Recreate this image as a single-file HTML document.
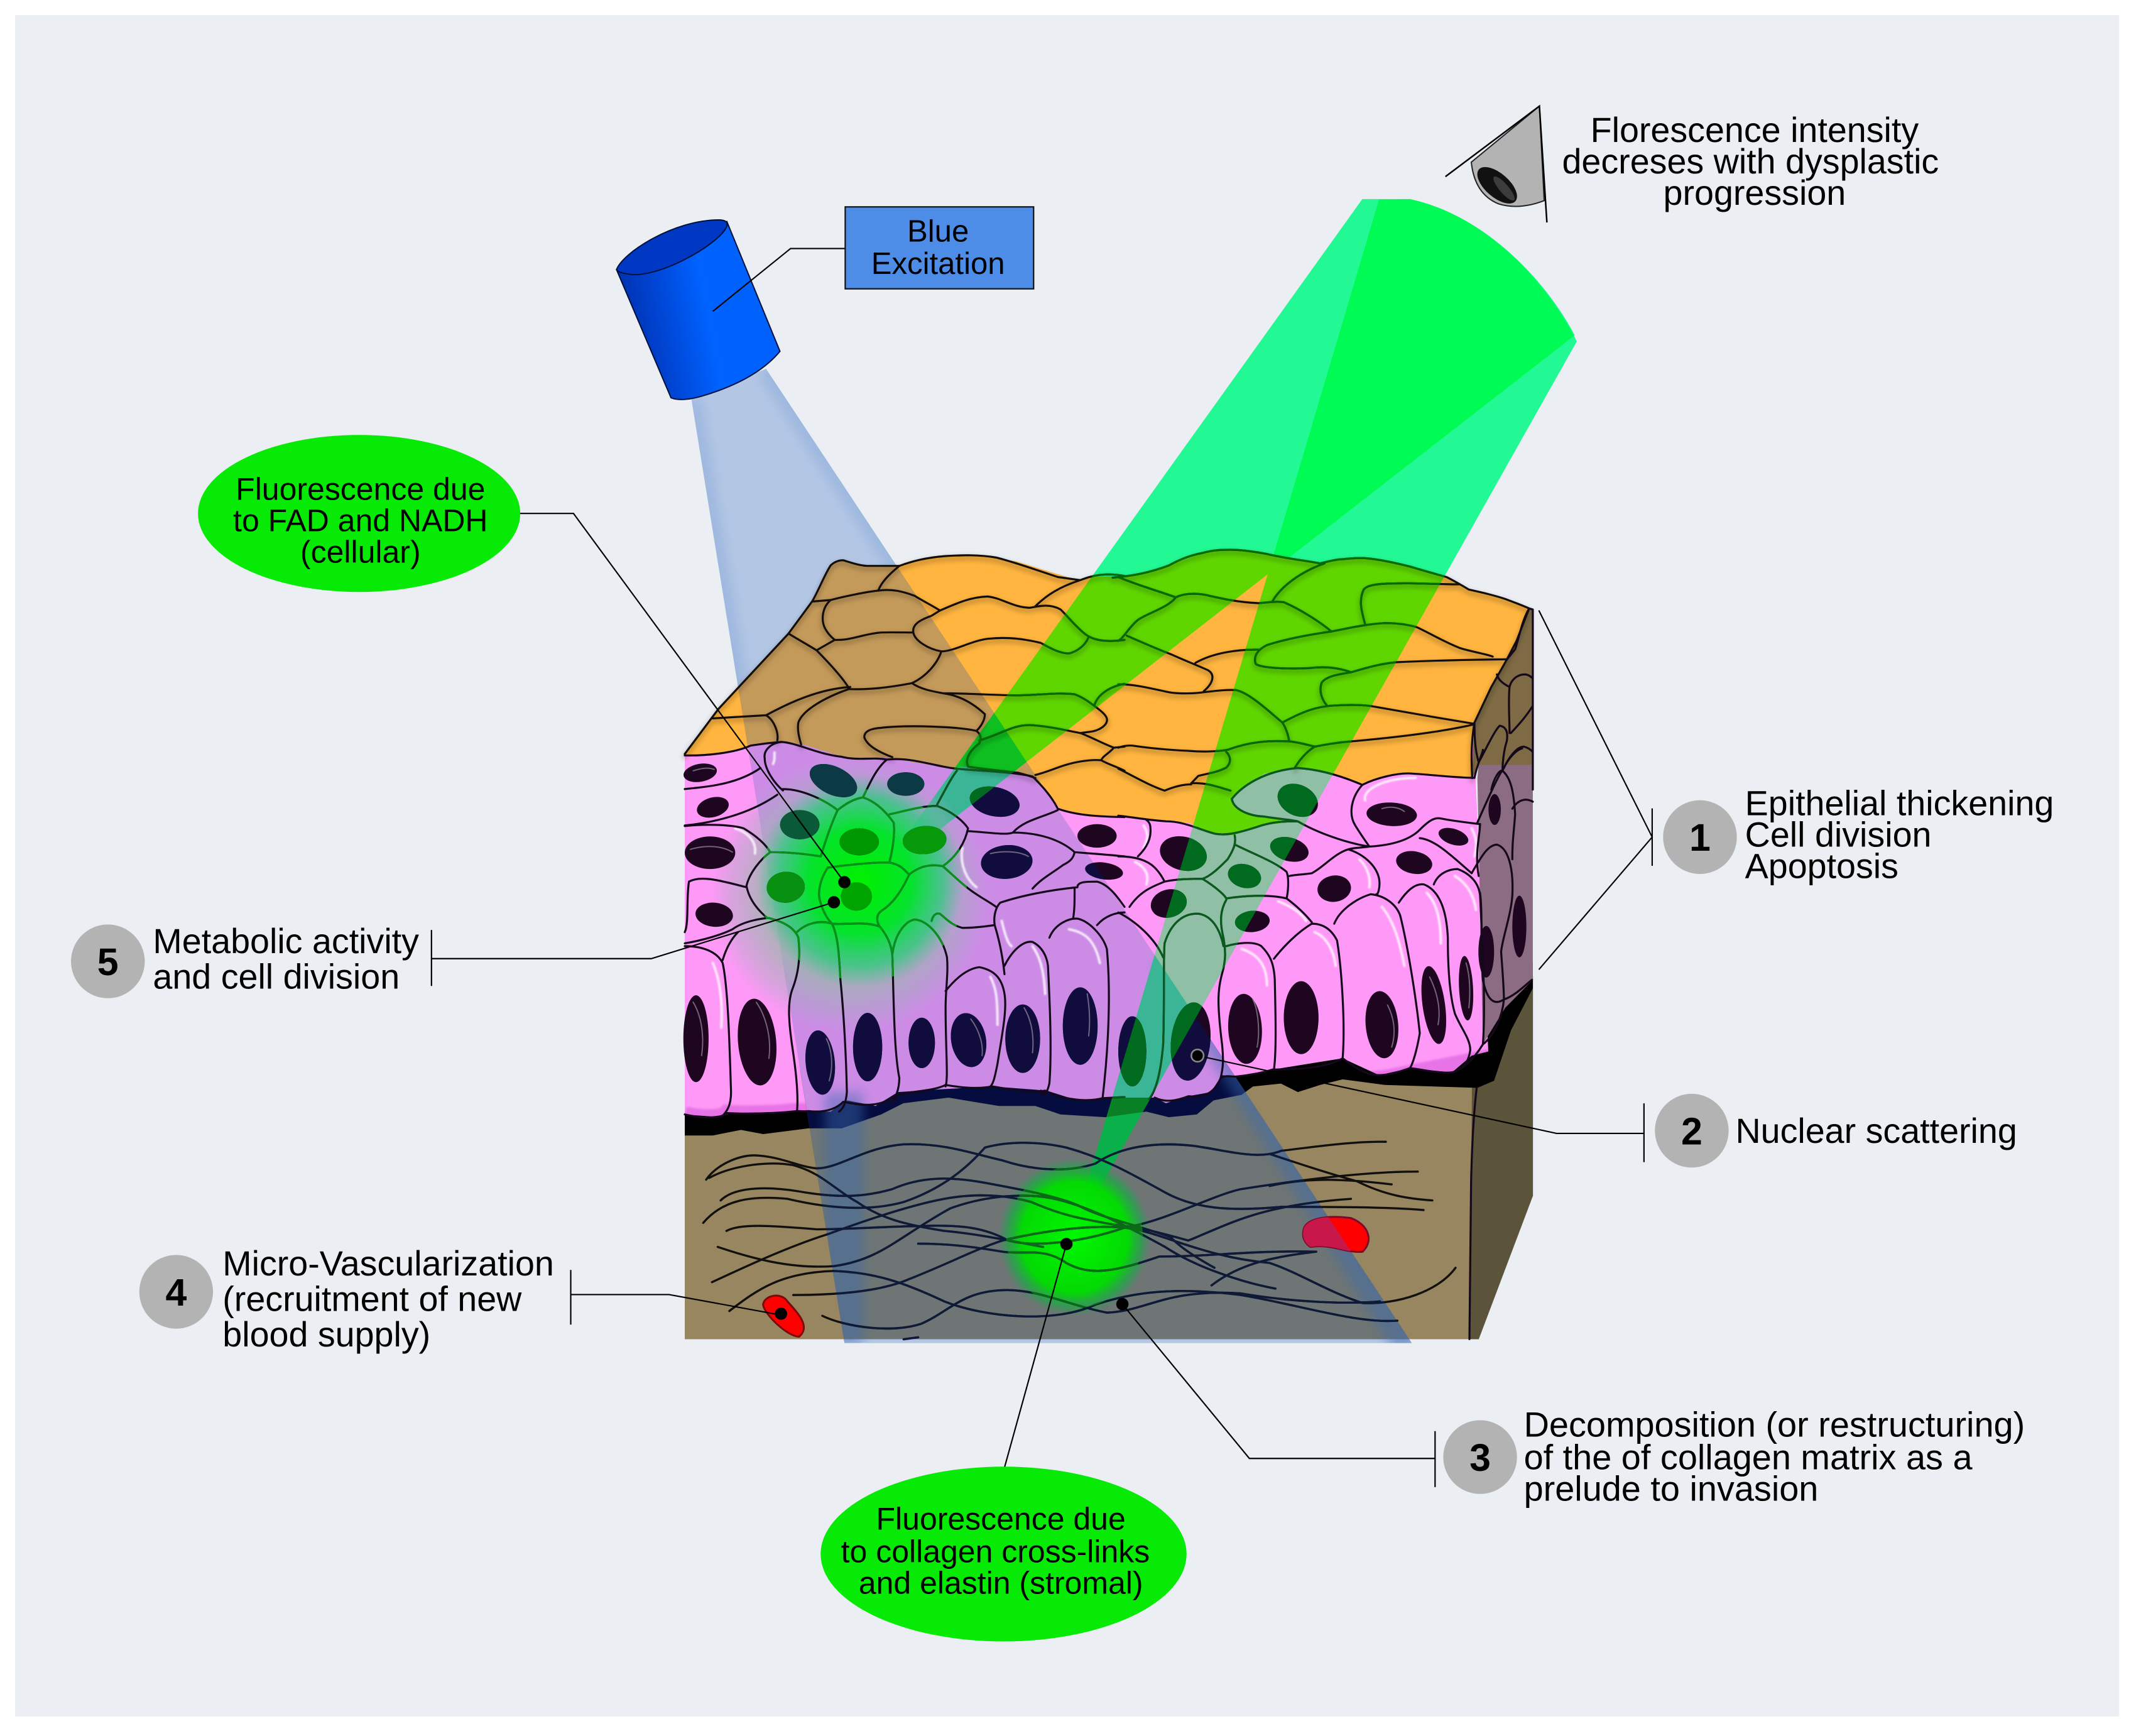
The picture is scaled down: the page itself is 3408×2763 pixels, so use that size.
<!DOCTYPE html>
<html><head><meta charset="utf-8"><style>
html,body{margin:0;padding:0;background:#fff}
svg{display:block}
text{font-family:"Liberation Sans",sans-serif;fill:#000}
.ln{fill:none;stroke:#000;stroke-width:1}
.v path{vector-effect:non-scaling-stroke}
.o{fill:none;stroke-linejoin:round;stroke-linecap:round}
</style></head><body>
<svg xmlns="http://www.w3.org/2000/svg" width="3408" height="2763" viewBox="0 0 1568 1271.25">
<defs>
<linearGradient id="gCyl" x1="0" y1=".6" x2="1" y2=".4"><stop offset="0" stop-color="#002ca8"/><stop offset=".3" stop-color="#0048d8"/><stop offset=".55" stop-color="#0062ff"/><stop offset="1" stop-color="#0060fb"/></linearGradient>
<radialGradient id="gHalo"><stop offset="0" stop-color="#80c090" stop-opacity=".95"/><stop offset=".6" stop-color="#98b8a8" stop-opacity=".8"/><stop offset=".85" stop-color="#a0b0b8" stop-opacity=".4"/><stop offset="1" stop-color="#a0a8c0" stop-opacity="0"/></radialGradient>
<radialGradient id="gGlow1"><stop offset="0" stop-color="#00f000"/><stop offset=".5" stop-color="#00e428" stop-opacity=".97"/><stop offset=".8" stop-color="#10d070" stop-opacity=".6"/><stop offset="1" stop-color="#30c090" stop-opacity="0"/></radialGradient>
<radialGradient id="gGlow2"><stop offset="0" stop-color="#00f800"/><stop offset=".7" stop-color="#00dc00" stop-opacity=".97"/><stop offset=".88" stop-color="#10b040" stop-opacity=".6"/><stop offset="1" stop-color="#20a050" stop-opacity="0"/></radialGradient>
<filter id="b1" x="-5%" y="-5%" width="110%" height="110%"><feGaussianBlur stdDeviation="1.6"/></filter>
<filter id="b2" x="-5%" y="-5%" width="110%" height="110%"><feGaussianBlur stdDeviation="4"/></filter>
<filter id="b3" x="-5%" y="-5%" width="110%" height="110%"><feGaussianBlur stdDeviation=".5"/></filter>

<clipPath id="cBlue"><polygon points="506.4,292.5 561,270 1034,983.5 618.4,983.5"/></clipPath>
<clipPath id="cB1"><path d="M640,645 L997.7,145.8 L1032.6,145.8 C1087.5,157.5 1132.4,205.6 1153.3,245.5Z"/></clipPath>
<clipPath id="cGreen"><path d="M640,645 L997.7,145.8 L1032.6,145.8 C1087.5,157.5 1132.4,205.6 1153.3,245.5Z"/><path d="M783,910 L1010,146 L1032.6,145.8 C1087.5,157.5 1132.4,205.6 1154.8,250Z"/></clipPath>
<clipPath id="cGlowA"><ellipse cx="632" cy="648" rx="76" ry="70"/></clipPath>
<clipPath id="cGlowB"><ellipse cx="787" cy="906" rx="50" ry="52"/></clipPath>

<path id="rStroma" d="M501.5,785 L1082,785 L1077,980.7 L501.5,980.7Z"/>
<path id="rBlack" d="M501.5,790 L1086,745 L1122.6,705 L1122.6,723.7 L1106.6,754.5 L1094.2,791.4 L1082,796.6 L1014.1,794.5 L983.3,790.4 L966.9,794.5 L950.5,799.7 L938.1,793.5 L917.6,795.6 L909.4,801.7 L888.8,805.8 L876.5,816.1 L856,818.1 L839.5,814 L809.6,818.1 L776.7,816.1 L758.3,809.9 L731.5,809.9 L694.6,803.8 L661.7,807.9 L645.3,816.1 L616.5,826.3 L591.9,826.3 L559,830.5 L542.6,827.4 L522,831.5 L501.5,831.5Z"/>
<path id="rPink" d="M501.5,553 L573,535 L1079,535 L1090,770 L1077.8,773 L1063.4,785.3 L1032.6,782.2 L1010,787.3 L983.3,775 L932,783.2 L905.3,788.4 L895,787.3 L886.8,799.7 L870.4,802.7 L853.9,807.9 L845.7,803.8 L809.6,803.8 L789.1,805.8 L766.5,798.6 L727.4,795.6 L690.5,797.6 L657.6,799.7 L641.2,809.9 L620.6,805.8 L608.3,814 L583.7,814 L534.4,815 L528.2,818.1 L501.5,816.1Z"/>
<path id="rTop" d="M501.5,552.1 L526.1,519.2 L577.5,463.9 L595,440.2 L608.3,414.1 L615.5,410.3 L633,414.1 L658.6,414.4 L682.3,408 L715.1,406.7 L743.9,411 L789,424.8 L799.3,422.5 L829.3,421.8 L856,414.1 L880.6,404.9 L901.2,402.6 L927.9,405.7 L966.9,412.6 L983.3,409.5 L999.8,408.7 L1032.6,414.9 L1059.3,422.5 L1075.8,431.7 L1102.5,438.6 L1119.9,445.5 L1110.7,469.3 L1103.5,483.1 L1092.2,503 L1079.9,529.1 L1077.4,549 L1078.2,569.8 L1034.7,566.5 L1012.1,568.6 L997.7,574.7 L975.1,566.5 L950.5,562.4 L925.8,566.5 L909.4,577.8 L902.2,585 L905.3,592.2 L921.7,597.3 L950.5,601.4 L923.8,604.5 L903.2,611.7 L886.8,609.7 L870.4,602.5 L839.5,600.4 L819,597.3 L799.3,598.4 L776.7,592.2 L756.2,568.6 L706.9,561.4 L694.6,562.4 L645.3,554.2 L628.8,556.3 L610.4,552.1 L587.8,545 L573.4,542.9 L552.9,545 L538.5,550.1 L522,553.2 L501.5,553.2Z"/>
<clipPath id="cPink"><use href="#rPink"/></clipPath>

<g id="nuc">
<g transform="translate(501.5,542.9) scale(.2054)">
<ellipse cx="55" cy="112" rx="60" ry="32" transform="rotate(-10 55 112)"/><ellipse cx="100" cy="235" rx="58" ry="35" transform="rotate(-15 100 235)"/><ellipse cx="90" cy="397" rx="90" ry="58"/><ellipse cx="105" cy="618" rx="67" ry="43" transform="rotate(5 105 618)"/><ellipse cx="530" cy="140" rx="90" ry="50" transform="rotate(25 530 140)"/><ellipse cx="788" cy="152" rx="66" ry="42"/><ellipse cx="1105" cy="215" rx="90" ry="52" transform="rotate(12 1105 215)"/><ellipse cx="410" cy="297" rx="70" ry="52"/><ellipse cx="622" cy="358" rx="70" ry="48"/><ellipse cx="855" cy="352" rx="78" ry="50" transform="rotate(-5 855 352)"/><ellipse cx="360" cy="520" rx="68" ry="55" transform="rotate(-5 360 520)"/><ellipse cx="612" cy="553" rx="55" ry="50"/><ellipse cx="1148" cy="430" rx="92" ry="60" transform="rotate(-5 1148 430)"/><ellipse cx="1470" cy="337" rx="70" ry="42"/><ellipse cx="1495" cy="462" rx="68" ry="30" transform="rotate(8 1495 462)"/>
<ellipse cx="40" cy="1060" rx="45" ry="155"/><ellipse cx="258" cy="1072" rx="68" ry="155" transform="rotate(-5 258 1072)"/><ellipse cx="483" cy="1145" rx="52" ry="115" transform="rotate(-5 483 1145)"/><ellipse cx="652" cy="1090" rx="52" ry="122"/><ellipse cx="845" cy="1075" rx="47" ry="90"/><ellipse cx="1012" cy="1065" rx="62" ry="97" transform="rotate(-10 1012 1065)"/><ellipse cx="1205" cy="1060" rx="62" ry="122"/><ellipse cx="1410" cy="1015" rx="62" ry="138"/>
</g>
<g transform="translate(819,542.9) scale(.2054)">
<ellipse cx="640" cy="210" rx="75" ry="55" transform="rotate(25 640 210)"/><ellipse cx="232" cy="400" rx="85" ry="60" transform="rotate(15 232 400)"/><ellipse cx="610" cy="385" rx="70" ry="42" transform="rotate(15 610 385)"/><ellipse cx="450" cy="480" rx="60" ry="42" transform="rotate(15 450 480)"/><ellipse cx="180" cy="578" rx="65" ry="50" transform="rotate(-15 180 578)"/><ellipse cx="478" cy="642" rx="62" ry="38" transform="rotate(-5 478 642)"/><ellipse cx="975" cy="260" rx="90" ry="42" transform="rotate(3 975 260)"/><ellipse cx="1195" cy="340" rx="55" ry="28" transform="rotate(18 1195 340)"/><ellipse cx="1055" cy="432" rx="65" ry="40" transform="rotate(10 1055 432)"/><ellipse cx="770" cy="525" rx="60" ry="47" transform="rotate(-8 770 525)"/>
<ellipse cx="50" cy="1105" rx="50" ry="125"/><ellipse cx="258" cy="1070" rx="70" ry="140" transform="rotate(6 258 1070)"/><ellipse cx="452" cy="1025" rx="60" ry="125" transform="rotate(-3 452 1025)"/><ellipse cx="652" cy="985" rx="62" ry="130"/><ellipse cx="940" cy="1010" rx="58" ry="120" transform="rotate(-5 940 1010)"/><ellipse cx="1125" cy="940" rx="40" ry="140" transform="rotate(-8 1125 940)"/><ellipse cx="1240" cy="880" rx="25" ry="115" transform="rotate(-3 1240 880)"/>
<ellipse cx="1342" cy="243" rx="22" ry="55"/><ellipse cx="1312" cy="750" rx="28" ry="92"/><ellipse cx="1430" cy="660" rx="25" ry="110"/>
</g>
</g>

<!-- top surface lines -->
<g id="tl" class="v o">
<g transform="translate(501.5,404.9) scale(.2054,.15336)">
<path d="M0,960 L120,745 L370,385 L455,230 C480,170 500,100 520,60 C535,40 550,35 565,35 C590,45 620,60 650,62 C690,62 730,62 765,62 C810,40 860,22 930,15 C990,10 1050,8 1110,22 C1180,45 1260,85 1330,115 L1410,130 C1430,120 1450,110 1480,105 C1510,100 1540,103 1568,110"/>
<path d="M765,62 C730,100 700,140 690,180 C650,185 560,210 520,225 L455,232 M690,180 C740,170 780,185 820,205 C850,230 880,250 910,275 M520,225 C490,260 485,320 500,360 C510,385 525,405 535,415 M535,415 C590,420 640,385 700,380 C740,378 780,380 815,380 M535,415 L470,465 M370,385 C400,410 440,440 470,465 C510,520 560,590 585,645"/>
<path d="M910,275 C970,240 1020,210 1080,208 C1130,215 1170,260 1230,262 C1260,255 1300,240 1340,270 C1370,310 1400,360 1430,390 C1450,410 1490,430 1568,415 M1250,255 C1290,200 1340,160 1410,130 M910,275 L880,300 C840,320 810,340 815,380 C820,420 870,460 915,470 M915,470 C960,470 1020,420 1080,410 C1150,400 1210,410 1270,430 C1310,460 1340,480 1370,480 C1400,470 1430,440 1440,400 M915,470 C900,530 860,590 810,622"/>
<path d="M585,650 C660,655 740,640 810,622 C840,650 880,660 920,670 C980,680 1030,720 1070,770 C1070,800 1055,830 1040,850 M590,640 C480,650 380,710 290,775 L100,790 M290,775 C320,800 335,860 330,895 M585,650 C500,690 420,750 405,810 C400,850 410,890 415,915 M920,670 C1000,670 1120,680 1180,680 C1250,680 1330,665 1390,675 C1420,690 1440,710 1460,730 C1480,750 1500,770 1505,790 C1510,820 1480,850 1440,855 L1410,860 M1460,730 C1470,680 1510,640 1568,625"/>
<path d="M1040,850 C980,830 800,820 700,835 C650,840 640,860 640,880 C650,920 690,950 740,975 M1040,850 C1060,870 1055,890 1050,910 C1010,950 1000,990 1010,1020 M1050,895 C1120,870 1170,820 1230,822 C1290,825 1370,850 1410,860 C1450,880 1490,910 1530,930 C1510,960 1490,970 1485,990 C1440,985 1380,1000 1330,1025 C1300,1040 1270,1055 1250,1060 M1530,930 L1568,925 M1485,990 C1510,1010 1540,1020 1568,1040 M1010,1020 C1050,1030 1130,1040 1190,1050 C1220,1060 1240,1070 1250,1075"/>
</g>
<g transform="translate(819,395.7) scale(.2054,.15336)">
<path d="M-20,178 C50,170 110,155 180,120 C220,90 260,70 300,60 C340,45 370,45 400,45 C440,45 490,55 530,65 C590,85 660,95 720,110 C750,100 780,90 800,90 C830,85 850,83 880,85 C930,90 990,108 1040,125 C1090,145 1130,160 1170,175 C1200,195 1225,215 1250,235 C1300,250 1340,262 1380,280 C1410,295 1440,310 1465,325 L1420,480 L1385,570 L1330,700 L1270,870 C1258,960 1258,1050 1262,1135"/>
<path d="M0,175 C60,210 150,245 205,272 M205,272 C230,255 270,250 310,260 C360,275 420,295 500,300 C520,298 560,290 590,295 C650,330 720,390 760,435 M205,272 C180,320 100,350 70,380 C50,400 30,440 10,470 L0,480 M30,455 C90,490 140,520 190,545 C230,570 270,590 320,620 C345,640 340,680 305,720 M550,290 C580,220 650,150 735,110 M880,400 C870,350 855,290 875,235 C890,205 960,205 1030,205 C1090,205 1150,210 1215,210"/>
<path d="M760,435 C820,420 880,400 950,395 C1000,395 1040,405 1065,415 C1120,450 1170,490 1220,515 C1270,535 1320,545 1335,555 M760,435 C680,450 600,470 530,500 C500,520 480,550 490,590 C510,610 600,615 680,610 C740,600 790,610 830,630 M830,630 C880,610 930,590 990,582 C1100,575 1250,570 1385,568 M500,522 C430,520 340,535 275,585 M830,630 C780,640 740,650 725,680 C715,720 725,760 745,790"/>
<path d="M0,688 C50,685 110,705 180,725 C220,735 280,730 305,725 C340,720 380,712 420,715 C470,730 540,820 585,870 C600,900 605,930 610,960 M585,870 C640,830 700,790 780,788 C820,785 870,785 905,792 C1000,815 1150,850 1265,875 M610,960 C540,955 470,960 390,1000 C350,1010 290,1010 250,1005 C170,1000 100,990 50,980 C30,978 10,985 0,990 M1265,880 C1150,915 1000,940 830,960 C780,965 740,975 700,985 C670,1010 645,1050 630,1085 M610,960 C650,965 680,980 705,985 M385,1010 C400,1030 405,1060 385,1085 C350,1110 310,1115 285,1125 L260,1160 M260,1160 C310,1155 350,1175 400,1195 M0,1090 C60,1130 110,1170 165,1195 C210,1170 240,1165 260,1165"/>
</g>
</g>

<!-- cell lines -->
<g id="cl" class="v o">
<g transform="translate(501.5,542.9) scale(.2054)">
<path d="M0,50 C80,52 180,40 235,15 C270,10 300,5 345,2 C400,5 470,45 560,55 C620,70 670,55 720,65 C800,55 880,85 950,95 C1020,105 1150,105 1240,125 C1280,165 1310,200 1330,240 C1400,265 1480,268 1568,270"/>
<path d="M285,60 C280,30 310,5 345,2 M285,60 C285,100 320,150 350,175 M0,170 C100,160 190,150 270,95 M0,300 C100,290 230,260 330,190 M350,170 C420,170 500,210 545,245 M545,245 C570,225 600,205 635,200 C670,210 710,240 745,290 C750,340 740,390 730,430 M635,200 C660,150 680,100 720,65 M730,260 C780,250 840,230 900,230 C950,250 990,280 1010,310 M900,225 C930,170 950,130 970,105 M1010,320 C1090,325 1150,335 1170,325 C1210,280 1280,270 1330,245 M1170,325 C1260,325 1340,350 1390,395 C1385,420 1370,430 1350,440 C1310,470 1270,490 1240,525 M1010,310 C1000,360 970,410 920,445 M1390,395 C1450,400 1520,405 1568,410"/>
<path d="M0,302 C60,295 160,295 210,310 C260,340 290,370 305,395 M305,395 C370,395 420,400 485,410 M305,395 C270,420 230,470 220,515 C230,570 270,610 295,630 M545,245 C520,300 500,360 485,410 M510,450 C580,440 680,430 730,432 C770,440 780,455 800,475 M510,450 C490,480 475,520 480,560 C490,600 505,630 525,650 M800,475 C830,450 870,435 920,445 C960,480 1000,520 1040,545 C1070,565 1090,575 1110,590 M800,475 C770,540 740,580 700,605 C680,620 685,645 695,660 M525,650 C570,655 640,640 695,660 C720,690 735,720 740,760 M400,680 C430,650 480,635 525,650 C545,690 550,750 555,850 C565,950 575,1100 578,1250 C575,1290 565,1310 550,1320"/>
<path d="M15,500 C60,475 140,500 220,520 M15,500 C5,560 15,650 0,680 M0,720 C60,710 130,690 170,670 C210,640 280,630 300,630 C340,640 390,660 405,700 C415,780 400,840 385,880 C365,930 370,1000 385,1100 C400,1200 405,1270 400,1320 M135,780 C150,730 170,700 190,680 M0,730 C80,730 120,760 135,790 C155,880 160,1100 165,1250 C165,1300 150,1320 130,1340"/>
<path d="M740,760 C745,900 745,1100 765,1200 C765,1240 750,1280 735,1290 M740,760 C750,680 790,640 820,635 C870,640 920,700 935,770 C940,830 930,880 930,950 C930,1100 940,1200 930,1230 M880,640 C885,620 895,610 910,615 C930,630 950,655 990,665 C1030,665 1070,660 1105,655 M1105,655 C1125,720 1135,780 1140,830 M1105,655 C1100,620 1110,590 1125,575 C1200,550 1300,530 1400,520 M1400,520 C1400,500 1430,500 1470,500 C1510,510 1540,550 1568,590 M1390,525 C1390,570 1390,600 1385,630 M1300,700 C1320,650 1370,630 1400,632 C1440,640 1490,690 1505,740 C1520,900 1510,1100 1490,1270 M1470,655 C1500,620 1540,610 1568,610 M1140,800 C1170,740 1210,710 1240,715 C1270,730 1290,760 1295,800 C1300,900 1310,1100 1300,1220 C1290,1260 1280,1270 1270,1245 M930,890 C970,840 1010,810 1050,805 C1100,815 1130,840 1140,900 C1150,960 1130,1050 1115,1150 C1105,1200 1100,1220 1090,1230"/>
<path d="M0,1330 C60,1345 130,1345 150,1325 C230,1330 340,1325 400,1318 C420,1318 430,1320 440,1318 C500,1325 540,1310 565,1285 C620,1295 690,1310 745,1265 C800,1245 880,1250 930,1225 C990,1235 1050,1240 1095,1230 C1160,1240 1230,1255 1285,1245 C1330,1270 1420,1290 1490,1272 L1568,1268"/>
</g>
<g transform="translate(819,542.9) scale(.2054)">
<path d="M0,265 C50,270 100,280 170,285 C230,285 280,310 330,325 C370,340 420,330 510,300 C560,285 600,285 640,285 C700,320 800,360 895,375 M405,205 C440,160 520,105 640,95 C720,100 800,125 870,155 C920,130 1000,110 1050,115 C1130,120 1210,130 1270,130 M405,205 C410,240 460,265 520,268 C560,275 620,280 640,285 M870,155 C830,200 820,260 845,300 C870,340 885,360 895,375 C980,370 1040,350 1075,315 C1110,280 1130,270 1150,275 C1200,285 1250,290 1290,295 M1075,345 C1130,350 1190,410 1260,470"/>
<path d="M895,375 C860,380 830,380 820,385 C770,400 730,450 690,470 C660,475 630,475 610,480 M415,335 C420,360 415,380 390,420 C360,450 330,480 300,490 M420,370 C480,400 560,430 600,465 C610,490 605,540 600,560 M820,385 C870,400 920,440 930,490 C935,520 925,550 920,545 M115,320 C115,360 90,390 70,410 M100,280 C115,290 115,305 115,320 M0,410 C50,410 100,420 130,450 C150,470 160,490 165,500 M300,490 C350,520 380,550 385,560 C450,550 540,545 600,560 C640,590 670,620 690,645 M40,590 C80,530 130,515 165,500 C210,490 260,490 300,490"/>
<path d="M385,565 C365,600 360,640 375,700 C385,760 380,780 375,810 C355,880 350,920 370,1080 C375,1130 375,1160 365,1200 M165,720 C190,640 240,610 290,615 C340,625 365,680 375,730 M165,720 C160,800 165,950 160,1080 C150,1200 130,1250 110,1275 M0,610 C60,640 130,700 160,770 M385,730 C420,720 480,710 510,730 C540,760 555,790 558,850 C560,950 565,1100 555,1170 M555,775 C590,730 640,680 690,650 C730,650 760,670 780,710 C795,800 810,1000 800,1130 M770,650 C790,600 850,560 900,545 C950,550 990,580 1005,620 C1030,720 1060,900 1075,1040 C1065,1100 1050,1150 1040,1165 M1000,575 C1030,530 1060,505 1090,510 C1140,530 1170,590 1175,700 C1175,800 1180,900 1200,970 C1220,1020 1255,1060 1255,1100 C1250,1140 1230,1170 1190,1180 M1125,510 C1140,470 1180,455 1210,455 C1250,470 1285,500 1290,550 C1300,750 1310,950 1300,1080 M1285,480 C1270,400 1290,330 1290,295"/>
<path d="M130,1270 C170,1290 210,1280 250,1265 C300,1270 340,1260 365,1200 C380,1190 400,1195 420,1195 C470,1190 520,1180 550,1170 C640,1170 740,1165 800,1130 C840,1160 880,1190 930,1190 C970,1190 1010,1175 1040,1165 C1090,1170 1140,1185 1190,1180 C1230,1170 1270,1130 1300,1080"/>
<!-- side cells -->
<path d="M1270,130 C1280,80 1300,40 1300,30 M1280,290 C1320,200 1360,110 1370,105 C1400,130 1410,180 1415,260 C1410,330 1405,350 1405,420 M1260,470 C1300,400 1320,370 1350,368 C1390,380 1410,450 1405,550 C1400,620 1370,700 1365,750 C1370,820 1375,880 1375,920 C1410,910 1450,870 1475,850 M1290,540 C1300,620 1290,750 1300,850 C1310,900 1330,950 1375,920 M1405,240 C1430,200 1460,205 1478,215 M1375,95 C1390,60 1420,30 1440,25 M1300,1080 C1340,1050 1370,980 1375,920"/>
<path d="M1278,1235 C1270,1300 1262,1400 1258,1568 L1252,2131"/>
</g>
<g transform="translate(819,395.7) scale(.2054,.15336)">
<path d="M1465,325 C1440,380 1430,460 1415,520 L1385,570 M1350,640 C1355,670 1380,690 1395,700 C1400,670 1420,640 1450,640 C1465,640 1478,660 1478,660 M1395,700 C1390,770 1395,850 1395,920 M1478,790 C1450,850 1420,890 1400,920 M1270,870 C1270,920 1270,990 1285,1060 M1285,1060 C1310,1000 1340,910 1360,885 C1385,890 1390,920 1385,960 C1375,1000 1370,1060 1370,1100 M1370,1100 C1390,1040 1420,985 1445,985 C1465,990 1478,1010 1478,1010 M1330,1190 C1340,1130 1360,1095 1370,1100"/>
<path d="M1465,325 L1478,330 L1478,1190" />
</g>
</g>

<g id="fibers" class="v o" transform="translate(483.1,690.1) scale(.42547,.23474)">
<path d="M80,740 C100,690 140,660 170,665 C210,670 240,700 270,705 C310,705 350,640 420,630 C490,625 540,660 590,680 C640,710 700,720 750,690 C790,640 850,620 920,635 C980,650 1030,680 1070,650 C1120,640 1190,620 1250,622"/>
<path d="M85,735 C120,700 180,680 230,695 C280,720 300,770 340,810 C380,860 420,880 490,900 C550,910 600,930 660,950"/>
<path d="M105,805 C130,760 190,760 250,780 C320,800 360,790 400,770 C450,730 500,730 560,750 C620,770 680,790 720,820 C760,860 820,880 880,920 C900,960 940,1000 955,1015"/>
<path d="M75,875 C110,800 160,790 220,800 C290,830 360,840 420,810 C500,760 540,680 560,640 C600,620 650,620 700,640 C760,670 800,710 870,780 C920,830 980,840 1070,825 C1150,825 1250,825 1315,835"/>
<path d="M115,900 C140,875 200,885 270,895 C330,895 400,885 450,885 C520,880 560,890 600,930 C640,950 720,940 800,890 C870,870 950,790 1000,770 C1070,750 1200,715 1305,715"/>
<path d="M100,950 C150,980 220,1020 300,1010 C380,990 410,920 500,830 C560,790 630,780 680,800 C730,820 790,870 870,950 C920,1010 1000,1060 1060,1080"/>
<path d="M90,1060 C150,1010 220,950 290,910 C350,870 430,820 490,800 C550,780 600,790 640,810 C690,850 720,860 780,880 C830,890 860,905 910,930 C980,880 1030,820 1190,800"/>
<path d="M120,1150 C170,1080 210,1030 300,1025 C370,1030 420,1060 490,1120 C560,1170 680,1190 750,1130 C800,1100 870,1070 1000,1100 C1100,1130 1200,1190 1270,1180"/>
<path d="M230,1100 C300,1100 380,1090 430,1050 C500,1000 540,960 590,930 C660,900 740,880 800,890 C860,900 930,980 1050,1000 C1100,1030 1150,1090 1210,1125 C1270,1130 1340,1090 1370,1015"/>
<path d="M280,1165 C320,1200 400,1220 450,1190 C500,1150 520,1090 590,1085 C650,1080 700,1130 770,1155 C840,1150 870,1080 1000,1095 C1080,1120 1180,1130 1240,1120"/>
<path d="M445,940 C500,940 540,950 590,965 C630,975 660,950 700,1000 C740,1040 780,1030 860,980 C950,980 1020,960 1130,965"/>
<path d="M1050,660 C1100,690 1150,720 1200,745 C1250,790 1290,800 1330,805 M1050,760 C1120,730 1190,740 1260,755 M950,1070 C1000,1000 1060,980 1130,965 M420,1238 L445,1232"/>
</g>
</defs>

<!-- page -->
<rect width="1568" height="1271.25" fill="#fff"/>
<rect x="11" y="11" width="1541" height="1246" fill="#ebeef2"/>

<!-- beams on background -->
<polygon points="506.4,292.5 561,270 1034,983.5 618.4,983.5" fill="#b3c7e5"/>
<g clip-path="url(#cBlue)"><path d="M506.4,292.5 L618.4,983.5 M561,270 L1034,983.5" fill="none" stroke="#6c92d0" stroke-width="14" opacity=".28" filter="url(#b2)"/></g>
<g clip-path="url(#cGreen)"><rect x="600" y="100" width="600" height="850" fill="#22f994"/></g>
<g clip-path="url(#cB1)"><path d="M783,910 L1010,146 L1032.6,145.8 C1087.5,157.5 1132.4,205.6 1154.8,250Z" fill="#00fb55"/></g>

<!-- tissue base -->
<use href="#rStroma" fill="#988660"/>
<path d="M1078,795 L1122.7,715 L1122.7,875.6 L1083,980.7 L1076.6,980.7Z" fill="#5b533a"/>
<use href="#rBlack" fill="#000"/>
<use href="#rPink" fill="#ff99f7"/>
<path d="M1082,570 L1083,558 L1096.3,533.7 L1102.4,533.7 L1106.6,549 L1114.8,546.8 L1122.6,550.6 L1122.6,717.5 L1102.4,738 L1086,764.7Z" fill="#8b6c82"/>
<path d="M1119.9,445.5 L1122.6,446 L1122.6,560 L1083,560 L1078,570 L1079.9,529 L1092,503 L1103.5,483 L1110.7,469Z" fill="#7e6b45"/>
<use href="#rTop" fill="#ffb53f"/>

<!-- pink shading along bottom -->
<g clip-path="url(#cPink)"><g transform="translate(501.5,542.9) scale(.2054)" class="v"><path d="M0,1330 C60,1345 130,1345 150,1325 C230,1330 340,1325 400,1318 C500,1325 540,1310 565,1285 C620,1295 690,1310 745,1265 C800,1245 880,1250 930,1225 C990,1235 1050,1240 1095,1230 C1160,1240 1230,1255 1285,1245 C1330,1270 1420,1290 1490,1272 L2000,1250 L2500,1200 L3000,1100" fill="none" stroke="#d050d8" stroke-width="26" opacity=".5" filter="url(#b2)"/></g></g>

<!-- blue tint -->
<g clip-path="url(#cBlue)">
<use href="#rStroma" fill="#6e7574"/><use href="#rBlack" fill="#050d40"/><use href="#rPink" fill="#cc8ce6"/><use href="#rTop" fill="#c49a5a"/>
<path d="M618,800 L618.4,983.5 M856,700 L1034,983.5" fill="none" stroke="#3a6ab0" stroke-width="28" opacity=".45" filter="url(#b2)"/>
<path d="M786,560 L930,780" fill="none" stroke="#6a70e0" stroke-width="22" opacity=".4" filter="url(#b2)"/>
</g>
<!-- green tint -->
<g clip-path="url(#cGreen)">
<use href="#rStroma" fill="#0ab04a"/><use href="#rBlack" fill="#0a8024"/><use href="#rPink" fill="#8fbfa5"/><use href="#rTop" fill="#5fd600"/>
</g>
<g clip-path="url(#cGreen)"><g clip-path="url(#cBlue)">
<use href="#rPink" fill="#3ab595"/><use href="#rTop" fill="#0fbf20"/>
</g></g>

<!-- glows -->
<ellipse cx="622" cy="655" rx="102" ry="100" fill="url(#gHalo)"/>
<ellipse cx="630" cy="645" rx="76" ry="78" fill="url(#gGlow1)"/>
<ellipse cx="787" cy="906" rx="56" ry="58" fill="url(#gGlow2)"/>

<!-- nuclei -->
<use href="#nuc" fill="#1e0620"/>
<g clip-path="url(#cBlue)"><use href="#nuc" fill="#100c3e"/></g>
<g clip-path="url(#cGreen)"><use href="#nuc" fill="#006a1e"/></g>
<g transform="translate(501.5,542.9) scale(.2054)">
<ellipse cx="530" cy="140" rx="90" ry="50" transform="rotate(25 530 140)" fill="#0c3a44"/><ellipse cx="788" cy="152" rx="66" ry="42" fill="#0c3a44"/><ellipse cx="410" cy="297" rx="70" ry="52" fill="#0a5a3a"/><ellipse cx="622" cy="358" rx="70" ry="48" fill="#009800"/><ellipse cx="855" cy="352" rx="78" ry="50" transform="rotate(-5 855 352)" fill="#069a0a"/><ellipse cx="360" cy="520" rx="68" ry="55" transform="rotate(-5 360 520)" fill="#089010"/><ellipse cx="612" cy="553" rx="55" ry="50" fill="#00a400"/>
</g>

<!-- highlights -->
<g filter="url(#b3)" class="v o" stroke="#fff" stroke-width="4" opacity=".8">
<g transform="translate(501.5,542.9) scale(.2054)">
<path d="M100,790 C130,860 135,950 130,1020 M180,310 C240,330 255,370 250,400 M1130,640 C1140,680 1150,720 1165,730 M1370,670 C1420,680 1460,700 1480,790 M1090,840 C1110,880 1115,910 1115,1010 M320,40 C320,60 320,70 315,80 M990,380 C980,430 1000,490 1040,520 M1240,730 C1260,760 1280,800 1285,900"/>
</g>
<g transform="translate(819,542.9) scale(.2054)">
<path d="M880,210 C870,170 950,130 1060,130 M940,590 C980,640 1000,700 1020,800 M1100,540 C1140,580 1150,650 1150,720 M700,680 C750,700 770,760 775,800 M440,740 C500,760 530,800 530,870 M860,420 C890,450 900,490 895,520 M60,430 C100,450 110,480 100,510 M90,300 C110,330 105,350 90,380 M1260,310 C1280,350 1280,370 1270,410 M570,570 C620,590 650,610 670,640 M1200,480 C1250,510 1270,560 1275,600"/>
</g>
</g>
<g class="v o" stroke="#9a8aa0" stroke-width="2" opacity=".7">
<g transform="translate(819,542.9) scale(.2054)">
<path d="M480,920 C500,960 505,1040 495,1090 M960,940 C985,990 990,1040 975,1090 M1110,840 C1140,900 1150,960 1140,1010 M1240,790 C1255,840 1255,900 1250,950 M940,240 C970,230 1000,235 1020,250"/>
</g>
<g transform="translate(501.5,542.9) scale(.2054)">
<path d="M30,930 C60,980 70,1050 60,1120 M255,930 C290,980 310,1060 300,1130 M505,1060 C525,1100 530,1160 515,1210 M1020,990 C1050,1030 1065,1080 1060,1120 M1210,950 C1240,1000 1245,1060 1240,1110 M1435,900 C1445,960 1445,1010 1440,1050 M30,105 C60,95 85,92 105,100 M20,385 C70,370 130,370 170,395 M1090,400 C1130,390 1190,390 1225,410"/>
</g>
</g>

<!-- cell & surface lines -->
<g filter="url(#b1)"><use href="#tl" stroke="#000" stroke-width="9" opacity=".17" transform="translate(0,2)"/></g>
<use href="#tl" stroke="#150e08" stroke-width="3.2"/>
<g clip-path="url(#cGreen)"><use href="#tl" stroke="#046a08" stroke-width="3.2"/></g>
<use href="#cl" stroke="#14081a" stroke-width="3.2"/>
<g clip-path="url(#cGreen)"><use href="#cl" stroke="#0a5a1e" stroke-width="3.2"/></g>
<g clip-path="url(#cGlowA)"><use href="#cl" stroke="#08901a" stroke-width="3.2"/></g>

<!-- collagen -->
<use href="#fibers" stroke="#12100e" stroke-width="3.4"/>
<g clip-path="url(#cBlue)"><use href="#fibers" stroke="#0e1a38" stroke-width="3.4"/></g>
<g clip-path="url(#cGlowB)"><use href="#fibers" stroke="#0a6a18" stroke-width="3.4"/></g>

<!-- blood cells -->
<g transform="translate(483.1,690.1) scale(.42547,.23474)" class="v">
<path d="M1108,900 C1110,860 1150,850 1190,860 C1220,880 1230,930 1210,965 C1180,970 1160,940 1120,950 Q1105,930 1108,900Z" fill="#ff0000" stroke="#7a0a2a" stroke-width="3"/>
<path d="M178,1130 C180,1100 210,1090 220,1120 C240,1160 260,1200 240,1230 C220,1230 180,1160 178,1130Z" fill="#ff0000" stroke="#7a0a0a" stroke-width="3"/>
</g>
<g clip-path="url(#cBlue)"><g transform="translate(483.1,690.1) scale(.42547,.23474)"><path d="M1108,900 C1110,860 1150,850 1190,860 C1220,880 1230,930 1210,965 C1180,970 1160,940 1120,950 Q1105,930 1108,900Z" fill="#c8184a"/></g></g>

<!-- cylinder -->
<g transform="translate(414.1,46) scale(.49882,.23474)" class="v">
<path d="M75,645 L155,1045 Q170,1058 200,1040 Q280,990 315,900 L237,495 Z" fill="url(#gCyl)" stroke="#00103a" stroke-width="2"/>
<path d="M75,645 C85,590 160,490 225,490 Q240,490 237,510 C225,570 130,680 90,658 Q78,655 75,645Z" fill="#0038c4" stroke="#00103a" stroke-width="2"/>
</g>

<!-- eye -->
<g transform="translate(414.1,46) scale(.49882,.23474)" class="v">
<path d="M1330,310 L1430,135 L1437,430 Q1400,460 1370,440 Q1335,410 1330,310Z" fill="#b3b3b3" stroke="#222" stroke-width="2"/>
<path d="M1292,355 L1430,135 L1441,498" fill="none" stroke="#000" stroke-width="2.5"/>
<ellipse cx="1368" cy="382" rx="22" ry="60" transform="rotate(-20 1368 382)" fill="#111"/>
<ellipse cx="1378" cy="392" rx="8" ry="40" transform="rotate(-20 1378 392)" fill="#3c3c3c"/>
</g>

<!-- Blue Excitation -->
<polyline class="ln" points="522,228 579,182 619,182" />
<rect x="619" y="151.5" width="138" height="60" fill="#4d8de8" stroke="#111" stroke-width="1"/>
<text x="687" y="177" font-size="22.6" text-anchor="middle">Blue</text>
<text x="687" y="200.5" font-size="22.6" text-anchor="middle">Excitation</text>

<!-- Top right text -->
<g font-size="25.6" text-anchor="middle">
<text x="1285" y="104">Florescence intensity</text>
<text x="1282" y="127">decreses with dysplastic</text>
<text x="1285" y="150">progression</text>
</g>

<!-- FAD ellipse -->
<polyline class="ln" points="380,376 420,376 618.4,646" />
<ellipse cx="263" cy="376" rx="118" ry="57.5" fill="#06ea06"/>
<g font-size="23" text-anchor="middle">
<text x="264" y="366">Fluorescence due</text>
<text x="264" y="389">to FAD and NADH</text>
<text x="264" y="412">(cellular)</text>
</g>

<!-- stromal ellipse -->
<polyline class="ln" points="735,1077 781,911" />
<ellipse cx="735" cy="1138" rx="134" ry="64" fill="#06ea06"/>
<g font-size="23" text-anchor="middle">
<text x="733" y="1120">Fluorescence due</text>
<text x="729" y="1144">to collagen cross-links</text>
<text x="733" y="1167">and elastin (stromal)</text>
</g>

<!-- callout 1 -->
<polyline class="ln" points="1127,447 1210,613 1127,710"/>
<line class="ln" x1="1210" y1="592" x2="1210" y2="634"/>
<circle cx="1245" cy="613" r="27" fill="#b3b3b3"/>
<text x="1245" y="623" font-size="28" font-weight="700" text-anchor="middle">1</text>
<g font-size="25.6"><text x="1278" y="597">Epithelial thickening</text><text x="1278" y="620">Cell division</text><text x="1278" y="643">Apoptosis</text></g>

<!-- callout 2 -->
<polyline class="ln" points="1204,830 1140,830 877,773"/>
<line class="ln" x1="1204" y1="808" x2="1204" y2="851"/>
<circle cx="1239" cy="828" r="27" fill="#b3b3b3"/>
<text x="1239" y="838" font-size="28" font-weight="700" text-anchor="middle">2</text>
<text x="1271" y="837" font-size="25.6">Nuclear scattering</text>

<!-- callout 3 -->
<polyline class="ln" points="1051,1068 915,1068 822,955"/>
<line class="ln" x1="1051" y1="1048" x2="1051" y2="1089"/>
<circle cx="1084" cy="1067" r="27" fill="#b3b3b3"/>
<text x="1084" y="1077" font-size="28" font-weight="700" text-anchor="middle">3</text>
<g font-size="25.7"><text x="1116" y="1052">Decomposition (or restructuring)</text><text x="1116" y="1076">of the of collagen matrix as a</text><text x="1116" y="1099">prelude to invasion</text></g>

<!-- callout 4 -->
<polyline class="ln" points="418,948 490,948 572,963"/>
<line class="ln" x1="418" y1="930" x2="418" y2="970"/>
<circle cx="129" cy="946" r="27" fill="#b3b3b3"/>
<text x="129" y="956" font-size="28" font-weight="700" text-anchor="middle">4</text>
<g font-size="25.6"><text x="163" y="934">Micro-Vascularization</text><text x="163" y="960">(recruitment of new</text><text x="163" y="986">blood supply)</text></g>

<!-- callout 5 -->
<polyline class="ln" points="316,702 477,702 610.7,660.7"/>
<line class="ln" x1="316" y1="681" x2="316" y2="722"/>
<circle cx="79" cy="704" r="27" fill="#b3b3b3"/>
<text x="79" y="714" font-size="28" font-weight="700" text-anchor="middle">5</text>
<g font-size="25.6"><text x="112" y="698">Metabolic activity</text><text x="112" y="724">and cell division</text></g>

<!-- dots -->
<g fill="#000">
<circle cx="618.4" cy="646" r="4.5"/><circle cx="610.7" cy="660.7" r="4.5"/>
<circle cx="781" cy="911" r="4.5"/><circle cx="822" cy="955" r="4.5"/><circle cx="572" cy="962" r="4.5"/>
<circle cx="877" cy="773" r="4.5" stroke="#888" stroke-width="1.2"/>
</g>
</svg>
</body></html>
